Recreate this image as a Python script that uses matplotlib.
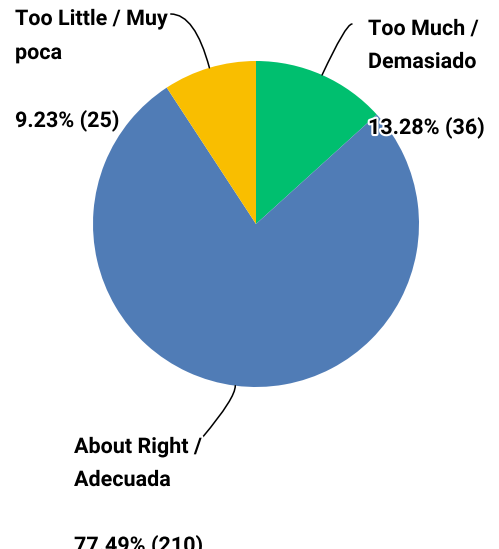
import numpy as np
import matplotlib
matplotlib.use("Agg")
import matplotlib.pyplot as plt
import matplotlib.patheffects as pe

# ---- data ----
categories = ["Too Much / Demasiado", "About Right / Adecuada", "Too Little / Muy poca"]
label_lines = [["Too Much /", "Demasiado"],
               ["About Right /", "Adecuada"],
               ["Too Little / Muy", "poca"]]
counts = [36, 210, 25]
colors = ["#00BF6F", "#507CB6", "#F9BE00"]

# ---- layout ----
W, H = 499, 549
fig = plt.figure(figsize=(W / 100, H / 100), dpi=100)
cx, cy, r = 256, 224, 163
ax = fig.add_axes([(cx - r) / W, (H - cy - r) / H, 2 * r / W, 2 * r / H])
wedges, _ = ax.pie(counts, colors=colors, startangle=90, counterclock=False,
                   wedgeprops=dict(linewidth=0, edgecolor="none"))
ax.set_xlim(-1, 1)
ax.set_ylim(-1, 1)
ax.set_aspect("equal")
ax.axis("off")

total = sum(counts)
pcts = [f"{c / total * 100:.2f}% ({c})" for c in counts]

font = dict(family=["Roboto", "DejaVu Sans"], weight="bold", size=15.5, color="black")
stroke = [pe.withStroke(linewidth=3, foreground="white")]

# left x, first baseline (px from top), line pitch
layout = [(368, 35, 33), (74, 453, 33), (15, 25, 34)]
firsts = []
for lines, pct, (lx, by, pitch) in zip(label_lines, pcts, layout):
    all_lines = lines + ["", pct]
    first = None
    for i, s in enumerate(all_lines):
        if not s:
            continue
        t = fig.text(lx / W, 1 - (by + i * pitch) / H, s, ha="left", va="baseline",
                     path_effects=stroke, **font)
        if first is None:
            first = t
    firsts.append(first)

fig.canvas.draw()
renderer = fig.canvas.get_renderer()

# leader line settings: (end point builder, angleA, angleB)
ends = []
bb0 = firsts[0].get_window_extent(renderer)
ends.append(((bb0.x0 - 16, H - 24), 0, 65))
bb1 = firsts[1].get_window_extent(renderer)
ends.append(((bb1.x1 + 1, H - 437), 50, 92))
bb2 = firsts[2].get_window_extent(renderer)
ends.append(((bb2.x1 + 3, H - 14), 0, 105))

for w, (endpt, aA, aB) in zip(wedges, ends):
    th = np.deg2rad((w.theta1 + w.theta2) / 2)
    anchor = (np.cos(th), np.sin(th))
    ax.annotate("", xy=anchor, xycoords="data", xytext=endpt, textcoords="figure pixels",
                annotation_clip=False,
                arrowprops=dict(arrowstyle="-", color="black", lw=1.1,
                                shrinkA=0, shrinkB=0,
                                connectionstyle=f"angle3,angleA={aA},angleB={aB}"))

fig.savefig("out.png", dpi=100)
